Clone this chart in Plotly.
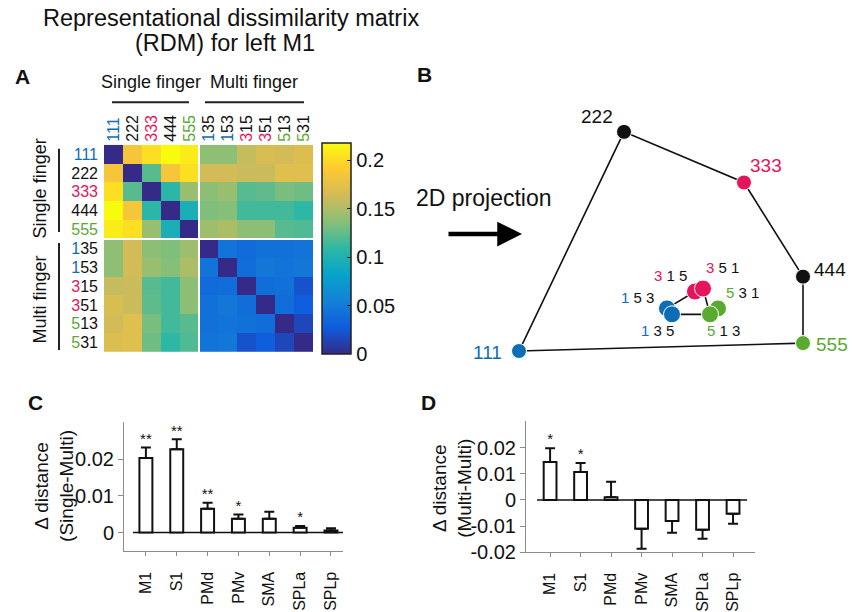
import plotly.graph_objects as go

W, H = 852, 612
H_EFF = 596  # measured effective drawing height in the photographed page
FONT = "Liberation Sans"
BLUE, RED, GREEN, BLACK = "#0d6db7", "#e6145a", "#5aaa32", "#111111"

# ---------------- data ----------------
conditions = ["111", "222", "333", "444", "555", "135", "153", "315", "351", "513", "531"]
row_111 = [0, .185, .203, .218, .210, .139, .139, .159, .168, .165, .170]
row_222 = [.185, 0, .122, .185, .203, .165, .165, .161, .161, .172, .172]
row_333 = [.203, .122, 0, .107, .143, .138, .143, .122, .124, .132, .129]
row_444 = [.218, .185, .107, 0, .096, .134, .136, .115, .115, .115, .109]
row_555 = [.210, .203, .143, .096, 0, .145, .150, .138, .138, .122, .119]
row_135 = [.139, .165, .138, .134, .145, 0, .044, .038, .042, .043, .045]
row_153 = [.139, .165, .143, .136, .150, .044, 0, .040, .047, .044, .047]
row_315 = [.159, .161, .122, .115, .138, .038, .040, 0, .040, .043, .022]
row_351 = [.168, .161, .124, .115, .138, .042, .047, .040, 0, .040, .029]
row_513 = [.165, .172, .132, .115, .122, .043, .044, .043, .040, 0, .016]
row_531 = [.170, .172, .129, .109, .119, .045, .047, .022, .029, .016, 0]
rdm = [row_111, row_222, row_333, row_444, row_555,
       row_135, row_153, row_315, row_351, row_513, row_531]
cbar_ticks = [0, 0.05, 0.1, 0.15, 0.2]
cbar_ticktext = ["0", "0.05", "0.1", "0.15", "0.2"]

# 2D projection (MDS) coordinates, arbitrary units
proj_x = {"111": 0, "222": 105, "333": 225, "444": 284, "555": 284,
          "135": 153, "153": 148, "315": 176, "351": 184, "513": 191, "531": 199}
proj_y = {"111": 0, "222": 221, "333": 170, "444": 75, "555": 8,
          "135": 37, "153": 43, "315": 60, "351": 63, "513": 37, "531": 43}
outer_ring = ["111", "222", "333", "444", "555", "111"]
inner_edges = [("153", "315"), ("135", "513"), ("351", "513")]

regions = ["M1", "S1", "PMd", "PMv", "SMA", "SPLa", "SPLp"]
single_multi = [0.0203, 0.0227, 0.0065, 0.0038, 0.0038, 0.0013, 0.0006]
single_multi_sem = [0.0029, 0.0027, 0.0016, 0.0011, 0.0019, 0.0005, 0.0006]
single_multi_sig = ["**", "**", "**", "*", "", "*", ""]
multi_multi = [0.0145, 0.0107, 0.0010, -0.0110, -0.0080, -0.0114, -0.0053]
multi_multi_sem = [0.0053, 0.0034, 0.0060, 0.0076, 0.0045, 0.0034, 0.0038]
multi_multi_sig = ["*", "*", "", "", "", "", ""]

parula = [[0.0, "#352a87"], [0.125, "#0f5cdd"], [0.25, "#1481d6"], [0.375, "#06a4ca"],
          [0.5, "#2eb7a4"], [0.625, "#87bf77"], [0.75, "#d1bb59"], [0.875, "#fec832"],
          [1.0, "#f9fb0e"]]

digit_color = {"1": BLUE, "3": RED, "5": GREEN, "2": BLACK, "4": BLACK}


def label_html(c, sep=""):
    if c[0] == c[1] == c[2]:
        return f"<span style='color:{digit_color[c[0]]}'>{sep.join(c)}</span>"
    return (f"<span style='color:{digit_color[c[0]]}'>{c[0]}</span>"
            f"<span style='color:{BLACK}'>{sep}{sep.join(c[1:])}</span>")


def px(xp):
    return xp / W


def py(yp):
    return 1 - yp / H_EFF


fig = go.Figure()

# ---------------- Panel A: heatmap ----------------
idx = list(range(len(conditions)))
fig.add_trace(go.Heatmap(
    z=rdm, x=idx, y=idx, colorscale=parula, zmin=0, zmax=0.218,
    xaxis="x", yaxis="y", hoverinfo="skip",
    colorbar=dict(
        x=px(322), xanchor="left", xpad=0, ypad=0,
        y=py(250.5), yanchor="middle", lenmode="pixels", len=211,
        thickness=29, outlinewidth=1.5, outlinecolor="#222",
        ticks="inside", ticklen=4, tickcolor="#222",
        tickvals=cbar_ticks, ticktext=cbar_ticktext,
        tickfont=dict(family=FONT, size=20, color="#111"))))

# ---------------- Panel B: projection ----------------
for a, b in inner_edges:
    fig.add_trace(go.Scatter(x=[proj_x[a], proj_x[b]], y=[proj_y[a], proj_y[b]],
                             mode="lines", line=dict(color="#111", width=1.6),
                             xaxis="x2", yaxis="y2", hoverinfo="skip"))
fig.add_trace(go.Scatter(x=[proj_x[c] for c in outer_ring], y=[proj_y[c] for c in outer_ring],
                         mode="lines", line=dict(color="#111", width=1.6),
                         xaxis="x2", yaxis="y2", hoverinfo="skip"))
pt_order = ["153", "135", "315", "351", "531", "513", "111", "222", "333", "444", "555"]
fig.add_trace(go.Scatter(
    x=[proj_x[c] for c in pt_order], y=[proj_y[c] for c in pt_order], mode="markers",
    marker=dict(size=[17, 17, 17, 17, 17, 17, 15, 15, 15, 15, 15],
                color=[digit_color[c[0]] for c in pt_order],
                opacity=1,
                line=dict(color="white", width=1)),
    xaxis="x2", yaxis="y2", hoverinfo="skip"))

annotations = []
outer_lab = {"222": (-27, 15), "333": (22, 17), "444": (27, 7), "555": (29, -1), "111": (-32, -1)}
for c, (dx, dy) in outer_lab.items():
    annotations.append(dict(x=proj_x[c], y=proj_y[c], xref="x2", yref="y2",
                            xanchor="center", yanchor="middle",
                            xshift=dx, yshift=dy, showarrow=False, text=label_html(c),
                            font=dict(family=FONT, size=19)))
inner_lab = {"315": (-25, 16), "351": (19, 21), "153": (-30, 11),
             "531": (24, 16), "135": (-15, -16), "513": (13, -16)}
for c, (dx, dy) in inner_lab.items():
    annotations.append(dict(x=proj_x[c], y=proj_y[c], xref="x2", yref="y2",
                            xanchor="center", yanchor="middle",
                            xshift=dx, yshift=dy, showarrow=False, text=label_html(c, " "),
                            font=dict(family=FONT, size=15)))

# ---------------- Panels C & D: bar charts ----------------
fig.add_trace(go.Bar(
    x=regions, y=single_multi, width=0.42, xaxis="x3", yaxis="y3",
    marker=dict(color="white", line=dict(color="#111", width=2)),
    error_y=dict(type="data", symmetric=False, array=single_multi_sem,
                 arrayminus=[0] * len(regions), color="#111", thickness=2, width=5),
    hoverinfo="skip"))
fig.add_trace(go.Scatter(
    x=regions, y=[m + s for m, s in zip(single_multi, single_multi_sem)],
    text=single_multi_sig, mode="text", textposition="top center",
    textfont=dict(family=FONT, size=15, color="#111"), xaxis="x3", yaxis="y3",
    hoverinfo="skip"))

mm_up = [s if m > 0 else 0 for m, s in zip(multi_multi, multi_multi_sem)]
mm_dn = [s if m < 0 else 0 for m, s in zip(multi_multi, multi_multi_sem)]
fig.add_trace(go.Bar(
    x=regions, y=multi_multi, width=0.42, xaxis="x4", yaxis="y4",
    marker=dict(color="white", line=dict(color="#111", width=2)),
    error_y=dict(type="data", symmetric=False, array=mm_up, arrayminus=mm_dn,
                 color="#111", thickness=2, width=5),
    hoverinfo="skip"))
fig.add_trace(go.Scatter(
    x=regions, y=[m + s for m, s in zip(multi_multi, multi_multi_sem)],
    text=multi_multi_sig, mode="text", textposition="top center",
    textfont=dict(family=FONT, size=15, color="#111"), xaxis="x4", yaxis="y4",
    hoverinfo="skip"))

# ---------------- shapes ----------------
shapes = [
    # separators in heatmap
    dict(type="line", xref="x", yref="y", x0=4.5, x1=4.5, y0=-0.5, y1=10.5,
         line=dict(color="white", width=2)),
    dict(type="line", xref="x", yref="y", x0=-0.5, x1=10.5, y0=4.5, y1=4.5,
         line=dict(color="white", width=2)),
    # group brackets
    dict(type="line", xref="paper", yref="paper", x0=px(112), x1=px(189), y0=py(103), y1=py(103),
         line=dict(color="#222", width=2)),
    dict(type="line", xref="paper", yref="paper", x0=px(205), x1=px(304), y0=py(103), y1=py(103),
         line=dict(color="#222", width=2)),
    dict(type="line", xref="paper", yref="paper", x0=px(59), x1=px(59), y0=py(150), y1=py(234),
         line=dict(color="#222", width=2)),
    dict(type="line", xref="paper", yref="paper", x0=px(59), x1=px(59), y0=py(245), y1=py(353),
         line=dict(color="#222", width=2)),
    # zero lines
    dict(type="line", xref="x3", yref="y3", x0=-0.42, x1=6.39, y0=0, y1=0,
         line=dict(color="#111", width=1.5), layer="below"),
    dict(type="line", xref="x4", yref="y4", x0=-0.43, x1=6.46, y0=0, y1=0,
         line=dict(color="#111", width=1.5), layer="below"),
]

# ---------------- text annotations ----------------
def ann(x, y, text, size, bold=False, angle=0, color="#111"):
    annotations.append(dict(x=px(x), y=py(y), xref="paper", yref="paper", showarrow=False,
                            xanchor="center", yanchor="middle",
                            text=f"<b>{text}</b>" if bold else text, textangle=angle,
                            font=dict(family=FONT, size=size, color=color)))


ann(231, 18, "Representational dissimilarity matrix", 23.5)
ann(225, 43, "(RDM) for left M1", 23.5)
ann(22, 77, "A", 21, bold=True)
ann(424, 75, "B", 21, bold=True)
ann(35, 406, "C", 21, bold=True)
ann(428, 406, "D", 21, bold=True)
ann(151, 83, "Single finger", 18)
ann(254, 83, "Multi finger", 18)
ann(40, 190, "Single finger", 18, angle=-90)
ann(40, 302, "Multi finger", 18, angle=-90)
ann(484, 200, "2D projection", 23)
ann(54, 490, "Δ distance<br>(Single-Multi)", 19, angle=-90)
ann(452, 493, "Δ distance<br>(Multi-Multi)", 19, angle=-90)
annotations.append(dict(x=px(522), y=py(236), ax=-75, ay=0,
                        xref="paper", yref="paper", axref="pixel", ayref="pixel",
                        showarrow=True, arrowhead=2, arrowsize=1.1, arrowwidth=4.5,
                        arrowcolor="#000", text=""))

hidden = dict(visible=False)
bar_x_common = dict(type="category", showline=True, linecolor="#8c8c8c", linewidth=1,
                    ticks="outside", ticklen=4, tickcolor="#8c8c8c", tickangle=-90,
                    tickfont=dict(family=FONT, size=16, color="#111"),
                    showgrid=False, zeroline=False, ticklabelstandoff=9, fixedrange=True)
bar_y_common = dict(showline=True, linecolor="#8c8c8c", linewidth=1, ticks="outside",
                    ticklen=5, tickcolor="#8c8c8c", showgrid=False, zeroline=False,
                    tickfont=dict(family=FONT, size=20, color="#111"))

fig.update_layout(
    width=W, height=H, autosize=False, margin=dict(l=0, r=0, t=0, b=0),
    paper_bgcolor="white", plot_bgcolor="white", showlegend=False,
    font=dict(family=FONT, color="#111"),
    xaxis=dict(domain=[px(104), px(313)], range=[-0.5, 10.5], side="top",
               tickvals=idx, ticktext=[label_html(c) for c in conditions],
               tickangle=-90, ticks="", showgrid=False, zeroline=False, showline=False,
               tickfont=dict(family=FONT, size=16), ticklabelstandoff=2, anchor="y"),
    yaxis=dict(domain=[py(355), py(146)], range=[10.5, -0.5],
               tickvals=idx, ticktext=[label_html(c) for c in conditions],
               ticks="", showgrid=False, zeroline=False, showline=False,
               tickfont=dict(family=FONT, size=16), ticklabelstandoff=5, anchor="x"),
    xaxis2=dict(domain=[px(460), 1], range=[-59, 333], anchor="y2", **hidden),
    yaxis2=dict(domain=[py(380), py(100)], range=[-26, 254], anchor="x2", **hidden),
    xaxis3=dict(domain=[px(124), px(343)], range=[-0.71, 6.39], anchor="y3", **bar_x_common),
    yaxis3=dict(domain=[py(556), py(426)], range=[-0.0051, 0.030], anchor="x3",
                tickvals=[0, 0.01, 0.02], ticktext=["0", "0.01", "0.02"], **bar_y_common),
    xaxis4=dict(domain=[px(526), px(755)], range=[-0.79, 6.72], anchor="y4", **bar_x_common),
    yaxis4=dict(domain=[py(557), py(425)], range=[-0.02, 0.030], anchor="x4",
                tickvals=[-0.02, -0.01, 0, 0.01, 0.02],
                ticktext=["-0.02", "-0.01", "0", "0.01", "0.02"], **bar_y_common),
    shapes=shapes, annotations=annotations,
)

fig.write_html(
    "out.html",
    config={"displayModeBar": False, "responsive": False},
    post_script=("document.documentElement.style.margin='0';"
                 "document.documentElement.style.overflow='hidden';"
                 "document.body.style.margin='0';document.body.style.padding='0';"
                 "document.body.style.overflow='hidden';"),
)
